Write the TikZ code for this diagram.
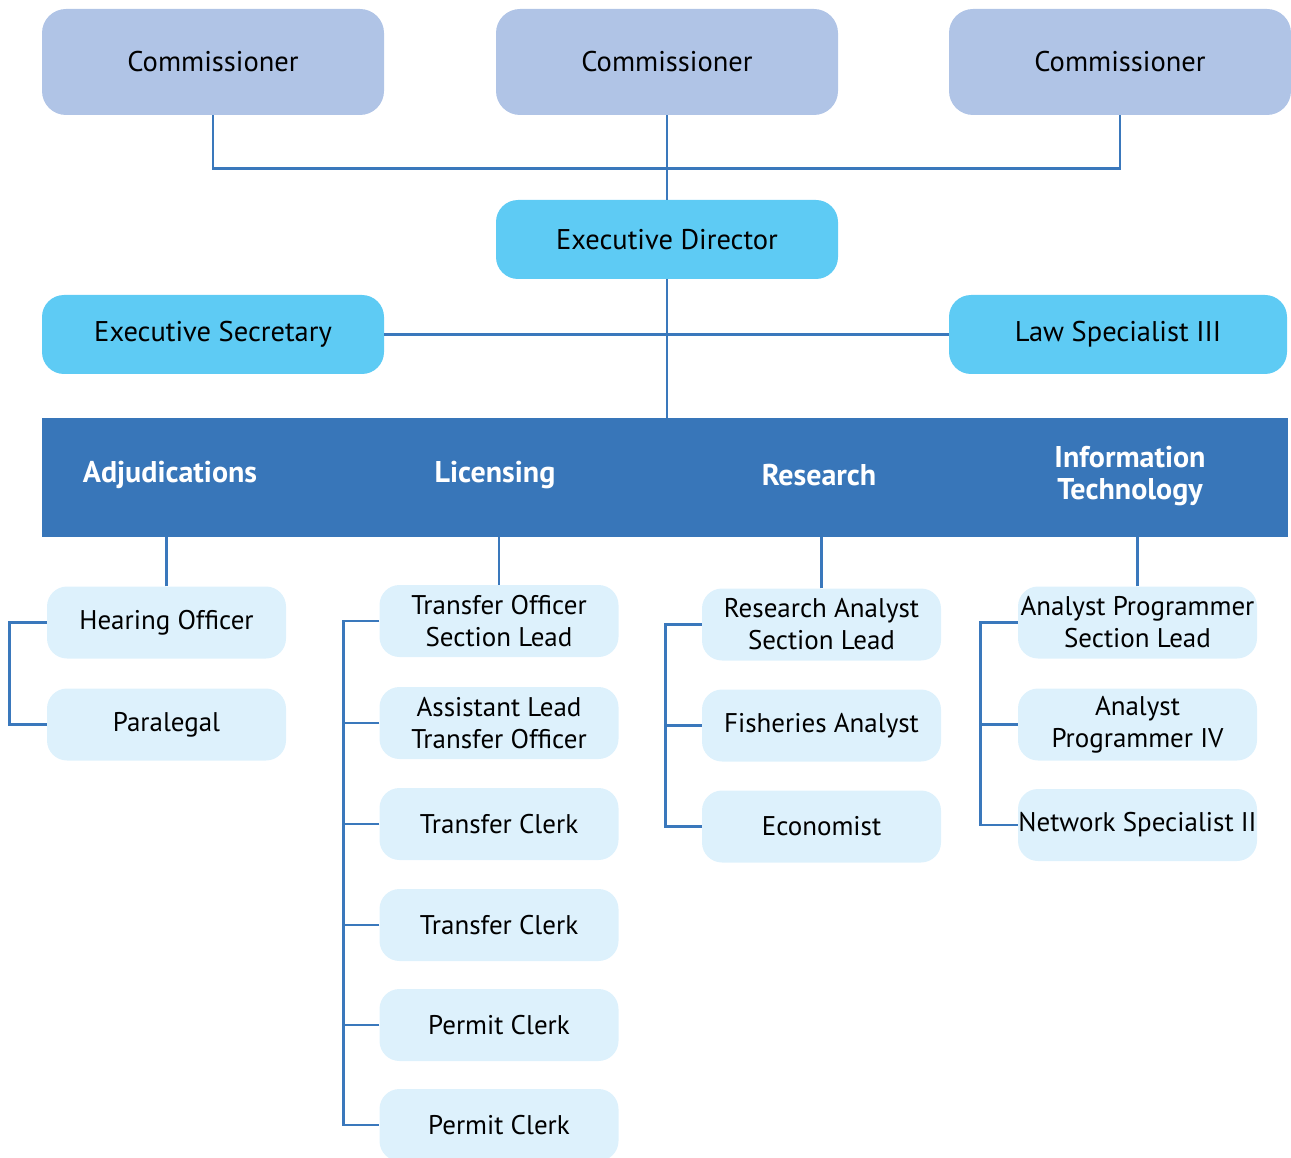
\documentclass[tikz,border=0pt]{standalone}
\usepackage{fontspec}
\setmainfont{PT Sans}
\usepackage{tikz}
\usetikzlibrary{calc,positioning}
\definecolor{comc}{HTML}{B0C4E6}
\definecolor{leadc}{HTML}{5ECBF4}
\definecolor{bandc}{HTML}{3876B9}
\definecolor{rolec}{HTML}{DDF1FC}
\definecolor{linec}{HTML}{3A78BC}
\tikzset{
  ln/.style={linec,line width=2.8pt},
  com/.style={fill=comc,rounded corners=24pt,minimum width=342pt,minimum height=106pt,inner sep=0pt,font=\fontsize{28.5}{32}\selectfont},
  lead/.style={fill=leadc,rounded corners=22pt,minimum width=342pt,minimum height=79pt,inner sep=0pt,font=\fontsize{28.5}{32}\selectfont},
  role/.style={fill=rolec,rounded corners=20pt,minimum width=239pt,minimum height=72pt,inner sep=0pt,align=center,font=\fontsize{27}{32}\selectfont},
  dept/.style={text=white,align=center,font=\bfseries\fontsize{30}{32}\selectfont}
}
\begin{document}
\begin{tikzpicture}[x=1pt,y=-1pt]
\useasboundingbox (0,0) rectangle (1291,1158);
% top level
\node[com] (c1) at (213,62) {Commissioner};
\node[com] (c2) at (667,62) {Commissioner};
\node[com] (c3) at (1120,62) {Commissioner};
\node[lead] (ed) at (667,239.5) {Executive Director};
\node[lead] (es) at (213,334.5) {Executive Secretary};
\node[lead,minimum width=338pt] (ls) at (1118,334.5) {Law Specialist III};
\draw[ln] (c1.south) -- ++(0,53) -| (c3.south);
\draw[ln] (c2.south) -- (ed.north);
\draw[ln] (es.east) -- (ls.west);
% divisions band
\node[fill=bandc,minimum width=1246pt,minimum height=119pt,inner sep=0pt] (band) at (665,477.5) {};
\draw[ln] (ed.south) -- (ed.south |- band.north);
\node[dept] (adj) at (170,475) {Adjudications};
\node[dept] (lic) at (495,475) {Licensing};
\node[dept] (res) at (819,475) {Research};
\node[dept] (it) at (1130,476) {Information\\Technology};
% adjudications
\node[role] (a1) at (166.5,622.5) {Hearing Officer};
\node[role] (a2) at (166.5,724.5) {Paralegal};
\draw[ln] (a1.north) -- (a1.north |- band.south);
\draw[ln] (a1.west) -- ++(-37,0) |- (a2.west);
% licensing
\node[role] (l1) at (499,621) {Transfer Officer\\Section Lead};
\node[role] (l2) at (499,723) {Assistant Lead\\Transfer Officer};
\node[role] (l3) at (499,824) {Transfer Clerk};
\node[role] (l4) at (499,925) {Transfer Clerk};
\node[role] (l5) at (499,1025) {Permit Clerk};
\node[role] (l6) at (499,1125) {Permit Clerk};
\draw[ln] (l1.north) -- (l1.north |- band.south);
\draw[ln] (l1.west) -- ++(-36,0) |- (l6.west);
\foreach \i in {2,...,5} \draw[ln] (l\i.west) -- ++(-36,0);
% research
\node[role] (r1) at (821.5,624.5) {Research Analyst\\Section Lead};
\node[role] (r2) at (821.5,725.5) {Fisheries Analyst};
\node[role] (r3) at (821.5,826.5) {Economist};
\draw[ln] (r1.north) -- (r1.north |- band.south);
\draw[ln] (r1.west) -- ++(-36,0) |- (r3.west);
\draw[ln] (r2.west) -- ++(-36,0);
% information technology
\node[role] (t1) at (1137.5,622.5) {Analyst Programmer\\Section Lead};
\node[role] (t2) at (1137.5,724.5) {Analyst\\Programmer IV};
\node[role] (t3) at (1137.5,825) {Network Specialist II};
\draw[ln] (t1.north) -- (t1.north |- band.south);
\draw[ln] (t1.west) -- ++(-37,0) |- (t3.west);
\draw[ln] (t2.west) -- ++(-37,0);
\end{tikzpicture}
\end{document}
